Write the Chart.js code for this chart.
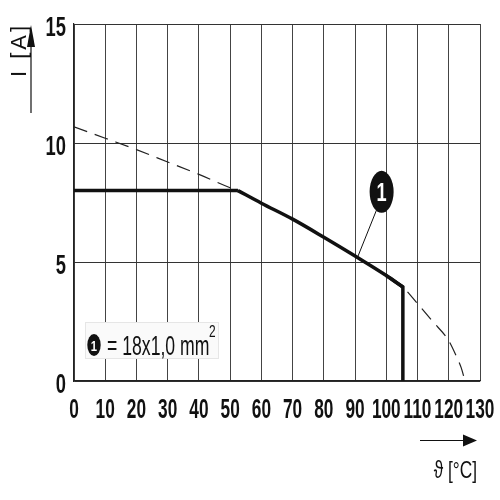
<!DOCTYPE html>
<html>
<head>
<meta charset="utf-8">
<script src="https://cdn.jsdelivr.net/npm/chart.js@4"></script>
<style>
  html, body { margin: 0; padding: 0; background: #fff; }
</style>
</head>
<body>
<canvas id="derating" width="500" height="500"></canvas>
<script>
// current derating curve, 18x1,0 mm2
const ratedTemp = [0, 52.5, 60, 70, 80, 90, 100, 105.3, 105.3];
const ratedCurrent = [8, 8, 7.47, 6.8, 6.04, 5.25, 4.43, 3.95, 0];

const limitTemp = [0, 10, 20, 30, 40, 50, 52.5, 60, 70, 80, 90, 100, 105.3, 110, 115, 120, 122.5, 124, 125.2];
const limitCurrent = [10.68, 10.2, 9.72, 9.2, 8.68, 8.12, 8.0, 7.47, 6.8, 6.04, 5.25, 4.43, 3.95, 3.25, 2.48, 1.69, 1.02, 0.55, 0];

const xTicks = [0, 10, 20, 30, 40, 50, 60, 70, 80, 90, 100, 110, 120, 130];
const yTicks = [0, 5, 10, 15];

const fontFamily = "'Liberation Sans', Arial, sans-serif";

function toPoints(xs, ys) {
  return xs.map((x, i) => ({ x: x, y: ys[i] }));
}

// condensed text: squeeze glyphs horizontally
function squeezed(ctx, text, x, y, sx, align) {
  ctx.save();
  ctx.translate(x, y);
  ctx.scale(sx, 1);
  ctx.textAlign = align;
  ctx.fillText(text, 0, 0);
  ctx.restore();
}

function solidPart(from, to, smooth) {
  return {
    data: toPoints(ratedTemp.slice(from, to), ratedCurrent.slice(from, to)),
    showLine: true,
    borderColor: "#111",
    borderWidth: 3.5,
    pointRadius: 0,
    borderCapStyle: "butt",
    cubicInterpolationMode: smooth ? "monotone" : "default",
    order: 1
  };
}

const decorations = {
  id: "decorations",
  afterDraw(chart) {
    const ctx = chart.ctx;
    const xs = chart.scales.x, ys = chart.scales.y;
    ctx.save();
    ctx.fillStyle = "#111";
    ctx.strokeStyle = "#111";
    ctx.textBaseline = "alphabetic";

    // tick labels from the scales
    ctx.font = "bold 27px " + fontFamily;
    xs.ticks.forEach(t => {
      squeezed(ctx, String(t.value), xs.getPixelForValue(t.value), 418, 0.64, "center");
    });
    ys.ticks.forEach(t => {
      squeezed(ctx, String(t.value), 66, ys.getPixelForValue(t.value) + 12, 0.68, "right");
    });

    // y axis arrow + title
    ctx.lineWidth = 1.2;
    ctx.beginPath();
    ctx.moveTo(31, 113);
    ctx.lineTo(31, 44);
    ctx.stroke();
    ctx.beginPath();
    ctx.moveTo(31, 25);
    ctx.lineTo(27, 47);
    ctx.lineTo(35, 47);
    ctx.closePath();
    ctx.fill();
    ctx.save();
    ctx.translate(26, 77);
    ctx.rotate(-Math.PI / 2);
    ctx.font = "22px " + fontFamily;
    ctx.letterSpacing = "3px";
    ctx.textAlign = "left";
    ctx.fillText("I [A]", 0, 0);
    ctx.restore();

    // x axis arrow + title
    ctx.beginPath();
    ctx.moveTo(420, 440.5);
    ctx.lineTo(465, 440.5);
    ctx.stroke();
    ctx.beginPath();
    ctx.moveTo(477, 440.5);
    ctx.lineTo(463, 434.5);
    ctx.lineTo(463, 446.5);
    ctx.closePath();
    ctx.fill();
    ctx.font = "24px " + fontFamily;
    squeezed(ctx, "\u03D1 [\u00B0C]", 477, 478, 0.72, "right");

    // marker 1 with leader line
    const mx = xs.getPixelForValue(98.5), my = ys.getPixelForValue(7.95);
    const lx = xs.getPixelForValue(90.8), ly = ys.getPixelForValue(5.2);
    ctx.lineWidth = 1;
    ctx.beginPath();
    ctx.moveTo(mx - 5, my + 18);
    ctx.lineTo(lx, ly);
    ctx.stroke();
    ctx.beginPath();
    ctx.ellipse(mx, my, 12, 21, 0, 0, Math.PI * 2);
    ctx.fill();
    ctx.fillStyle = "#fff";
    ctx.font = "bold 26px " + fontFamily;
    squeezed(ctx, "1", mx, my + 9, 0.7, "center");

    // legend box
    ctx.fillStyle = "#fafafa";
    ctx.fillRect(85, 322, 133, 36);
    ctx.strokeStyle = "#e6e6e6";
    ctx.strokeRect(85.5, 322.5, 133, 36);
    ctx.fillStyle = "#111";
    ctx.beginPath();
    ctx.ellipse(94, 345, 6.7, 11, 0, 0, Math.PI * 2);
    ctx.fill();
    ctx.fillStyle = "#fff";
    ctx.font = "bold 15px " + fontFamily;
    squeezed(ctx, "1", 94, 350.5, 0.75, "center");
    ctx.fillStyle = "#111";
    ctx.font = "28px " + fontFamily;
    squeezed(ctx, "= 18x1,0 mm", 107, 355, 0.63, "left");
    ctx.font = "17px " + fontFamily;
    squeezed(ctx, "2", 209, 337, 0.7, "left");
    ctx.restore();
  }
};

new Chart(document.getElementById("derating"), {
  type: "scatter",
  data: {
    datasets: [
      {
        label: "limit",
        data: toPoints(limitTemp, limitCurrent),
        showLine: true,
        borderColor: "#222",
        borderWidth: 1.2,
        borderDash: [14, 8],
        pointRadius: 0,
        cubicInterpolationMode: "monotone",
        order: 2
      },
      solidPart(0, 2, false),
      solidPart(1, 8, true),
      solidPart(6, 9, false)
    ]
  },
  options: {
    responsive: false,
    animation: false,
    layout: { padding: { left: 0, top: 24, right: 20, bottom: 0 } },
    plugins: {
      legend: { display: false },
      tooltip: { enabled: false }
    },
    scales: {
      x: {
        type: "linear",
        min: 0,
        max: 130,
        afterBuildTicks: (s) => { s.ticks = xTicks.map(v => ({ value: v })); },
        afterFit: (s) => { s.height = 119; },
        grid: { color: "#444", lineWidth: 1, drawTicks: false },
        border: { color: "#222", width: 1.2 },
        ticks: { display: false }
      },
      y: {
        min: 0,
        max: 15,
        afterBuildTicks: (s) => { s.ticks = yTicks.map(v => ({ value: v })); },
        afterFit: (s) => { s.width = 74; },
        grid: { color: "#333", lineWidth: 1, drawTicks: false },
        border: { color: "#222", width: 1.2 },
        ticks: { display: false }
      }
    }
  },
  plugins: [decorations]
});
</script>
</body>
</html>
